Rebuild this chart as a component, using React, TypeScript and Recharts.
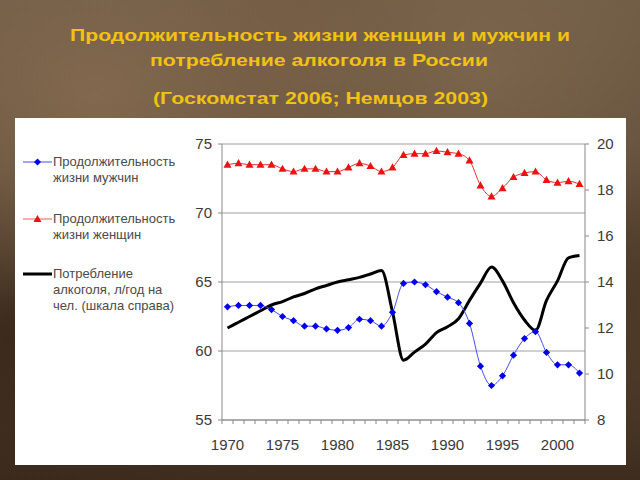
import React from "react";
import { ComposedChart, Line, XAxis, YAxis, CartesianGrid, Legend } from "recharts";

// годы наблюдений
const years = [
  1970, 1971, 1972, 1973, 1974, 1975, 1976, 1977, 1978, 1979, 1980, 1981, 1982, 1983, 1984, 1985, 1986,
  1987, 1988, 1989, 1990, 1991, 1992, 1993, 1994, 1995, 1996, 1997, 1998, 1999, 2000, 2001, 2002,
];

// продолжительность жизни мужчин, лет
const menLife = [
  63.2, 63.3, 63.3, 63.3, 63.0, 62.5, 62.2, 61.8, 61.8, 61.6, 61.5, 61.7, 62.3, 62.2, 61.8, 62.8, 64.9,
  65.0, 64.8, 64.3, 63.9, 63.5, 62.0, 58.9, 57.5, 58.2, 59.7, 60.9, 61.4, 59.9, 59.0, 59.0, 58.4,
];

// продолжительность жизни женщин, лет
const womenLife = [
  73.5, 73.6, 73.5, 73.5, 73.5, 73.2, 73.0, 73.2, 73.2, 73.0, 73.0, 73.3, 73.6, 73.4, 73.0, 73.3, 74.2,
  74.3, 74.3, 74.5, 74.4, 74.3, 73.8, 72.0, 71.2, 71.8, 72.6, 72.9, 73.0, 72.4, 72.2, 72.3, 72.1,
];

// потребление алкоголя, л/год на чел. (правая шкала)
const alcohol = [
  12.0, 12.25, 12.5, 12.75, 13.0, 13.15, 13.35, 13.5, 13.7, 13.85, 14.0, 14.1, 14.2, 14.35, 14.5, 12.7, 10.6,
  10.95, 11.3, 11.8, 12.05, 12.4, 13.2, 13.95, 14.65, 14.05, 13.1, 12.35, 11.9, 13.2, 14.05, 15.05, 15.15,
];

const yearLabels = [1970, 1975, 1980, 1985, 1990, 1995, 2000];
const leftTicks = [55, 60, 65, 70, 75];
const rightTicks = [8, 10, 12, 14, 16, 18, 20];

const titleLines = [
  "Продолжительность жизни женщин и мужчин и",
  "потребление алкоголя в России",
  "(Госкомстат 2006; Немцов 2003)",
];

const legendOrder = ["men", "women", "alcohol"];
const legendLines: Record<string, string[]> = {
  men: ["Продолжительность", "жизни мужчин"],
  women: ["Продолжительность", "жизни женщин"],
  alcohol: ["Потребление", "алкоголя, л/год на", "чел. (шкала справа)"],
};

const data = years.map((year, i) => ({
  year,
  men: menLife[i],
  women: womenLife[i],
  alcohol: alcohol[i],
}));

// деления оси X — между годами, как в Excel
const halfTicks = [...years.map((y) => y - 0.5), years[years.length - 1] + 0.5];

const FONT = "'Liberation Sans', Arial, sans-serif";
const PLOT_LEFT = 222;
const PLOT_RIGHT = 585;
const STEP = (PLOT_RIGHT - PLOT_LEFT) / years.length;

const BLUE = "#0000ee";
const RED = "#ee1111";

const Diamond = (props: any) => {
  const { cx, cy, index } = props;
  if (cx == null || cy == null) return <g key={`m${index}`} />;
  const r = 3.6;
  return (
    <path
      key={`m${index}`}
      d={`M${cx},${cy - r}L${cx + r},${cy}L${cx},${cy + r}L${cx - r},${cy}Z`}
      fill={BLUE}
    />
  );
};

const Triangle = (props: any) => {
  const { cx, cy, index } = props;
  if (cx == null || cy == null) return <g key={`w${index}`} />;
  return (
    <path
      key={`w${index}`}
      d={`M${cx},${cy - 4.2}L${cx + 4},${cy + 3}L${cx - 4},${cy + 3}Z`}
      fill={RED}
    />
  );
};

const YearTick = (props: any) => {
  const { x, y, payload } = props;
  const year = payload.value + 0.5;
  if (!yearLabels.includes(year)) return <g />;
  return (
    <text x={x + STEP / 2} y={y} dy="0.71em" textAnchor="middle" fill="#3a3a3a" fontSize={15} fontFamily={FONT}>
      {year}
    </text>
  );
};

const LegendIcon = ({ k }: { k: string }) => (
  <svg width={38} height={16} style={{ flex: "none" }}>
    {k === "men" && (
      <>
        <line x1={8} y1={8} x2={37} y2={8} stroke="#4a4af0" strokeWidth={1} />
        <path d="M22.5,4.5L26,8L22.5,11.5L19,8Z" fill={BLUE} />
      </>
    )}
    {k === "women" && (
      <>
        <line x1={8} y1={8} x2={37} y2={8} stroke="#e06060" strokeWidth={1} />
        <path d="M22.5,4L26.5,11L18.5,11Z" fill={RED} />
      </>
    )}
    {k === "alcohol" && <line x1={8} y1={8} x2={37} y2={8} stroke="#000" strokeWidth={3} />}
  </svg>
);

const renderLegend = (props: any) => {
  const keys = legendOrder.filter((k) => (props.payload || []).some((p: any) => p.dataKey === k));
  return (
    <div style={{ fontFamily: FONT, fontSize: 13, color: "#4a4a4a", lineHeight: "16px" }}>
      {keys.map((k, i) => (
        <div key={k} style={{ display: "flex", alignItems: "flex-start", marginTop: i === 0 ? 0 : i === 1 ? 25 : 23 }}>
          <LegendIcon k={k} />
          <div>
            {legendLines[k].map((t) => (
              <div key={t} style={{ whiteSpace: "nowrap" }}>
                {t}
              </div>
            ))}
          </div>
        </div>
      ))}
    </div>
  );
};

const background = [
  "radial-gradient(ellipse at 15% 20%, rgba(150,120,90,0.55), transparent 40%)",
  "radial-gradient(ellipse at 75% 15%, rgba(140,115,85,0.5), transparent 35%)",
  "radial-gradient(ellipse at 45% 5%, rgba(110,85,60,0.5), transparent 30%)",
  "radial-gradient(ellipse at 5% 70%, rgba(40,25,15,0.6), transparent 35%)",
  "radial-gradient(ellipse at 95% 60%, rgba(60,40,25,0.5), transparent 35%)",
  "linear-gradient(180deg, #6e5a45 0%, #5c4935 60%, #3e2c1e 100%)",
].join(",");

export default function App() {
  return (
    <div
      style={{
        position: "fixed",
        left: 0,
        top: 0,
        width: 640,
        height: 480,
        overflow: "hidden",
        background,
      }}
    >
      <div style={{ position: "absolute", left: 15, top: 118, width: 611, height: 347, background: "#fff" }} />
      <svg width={640} height={115} style={{ position: "absolute", left: 0, top: 0 }}>
        <g fill="#f2c213" fontFamily={FONT} fontWeight="bold" fontSize={17} textAnchor="middle">
          <text x={320} y={41} textLength={500} lengthAdjust="spacingAndGlyphs">
            {titleLines[0]}
          </text>
          <text x={319} y={66} textLength={338} lengthAdjust="spacingAndGlyphs">
            {titleLines[1]}
          </text>
          <text x={320.5} y={104} textLength={335} lengthAdjust="spacingAndGlyphs">
            {titleLines[2]}
          </text>
        </g>
      </svg>
      <div style={{ position: "absolute", left: 0, top: 0 }}>
        <ComposedChart
          width={640}
          height={480}
          data={data}
          margin={{ top: 144, right: 15, bottom: 30, left: 182 }}
        >
          <CartesianGrid yAxisId="left" vertical={false} stroke="#a0a0a0" />
          <XAxis
            dataKey="year"
            type="number"
            domain={[1969.5, 2002.5]}
            ticks={halfTicks}
            interval={0}
            height={30}
            tickSize={4}
            tickMargin={15}
            tick={YearTick}
            axisLine={{ stroke: "#888" }}
            tickLine={{ stroke: "#888" }}
          />
          <YAxis
            yAxisId="left"
            domain={[55, 75]}
            ticks={leftTicks}
            interval={0}
            width={40}
            tickSize={4}
            tickMargin={6}
            axisLine={{ stroke: "#888" }}
            tickLine={{ stroke: "#888" }}
            tick={{ fill: "#3a3a3a", fontSize: 15, fontFamily: FONT }}
          />
          <YAxis
            yAxisId="right"
            orientation="right"
            domain={[8, 20]}
            ticks={rightTicks}
            interval={0}
            width={40}
            tickSize={4}
            tickMargin={8}
            axisLine={{ stroke: "#888" }}
            tickLine={{ stroke: "#888" }}
            tick={{ fill: "#3a3a3a", fontSize: 15, fontFamily: FONT }}
          />
          <Legend
            layout="vertical"
            align="center"
            verticalAlign="middle"
            content={renderLegend}
            wrapperStyle={{ left: 15, top: 154, width: 175 }}
          />
          <Line
            yAxisId="right"
            dataKey="alcohol"
            name="Потребление алкоголя, л/год на чел. (шкала справа)"
            type="monotone"
            stroke="#000"
            strokeWidth={3}
            dot={false}
            isAnimationActive={false}
          />
          <Line
            yAxisId="left"
            dataKey="men"
            name="Продолжительность жизни мужчин"
            type="monotone"
            stroke="#4a4af0"
            strokeWidth={1}
            dot={Diamond}
            activeDot={false}
            isAnimationActive={false}
          />
          <Line
            yAxisId="left"
            dataKey="women"
            name="Продолжительность жизни женщин"
            type="monotone"
            stroke="#e03030"
            strokeWidth={1}
            dot={Triangle}
            activeDot={false}
            isAnimationActive={false}
          />
        </ComposedChart>
      </div>
    </div>
  );
}
